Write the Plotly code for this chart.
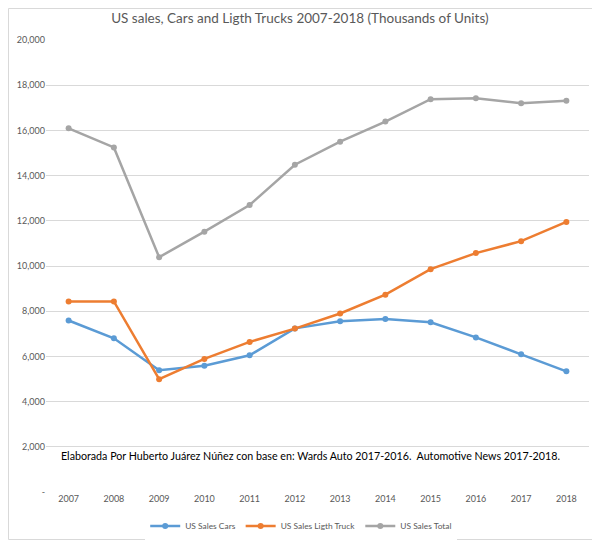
import plotly.graph_objects as go

# US sales (thousands of units)
years = ["2007", "2008", "2009", "2010", "2011", "2012",
         "2013", "2014", "2015", "2016", "2017", "2018"]
cars = [7590, 6800, 5390, 5590, 6050, 7240, 7550, 7650, 7510, 6840, 6090, 5340]
light_truck = [8430, 8430, 4990, 5890, 6640, 7230, 7900, 8730, 9860, 10570, 11100, 11950]
total = [16090, 15245, 10390, 11520, 12700, 14480, 15500, 16390, 17380, 17425, 17200, 17310]

y_ticks = [0, 2000, 4000, 6000, 8000, 10000, 12000, 14000, 16000, 18000, 20000]
y_labels = ["-"] + [f"{v:,}" for v in y_ticks[1:]]

font_name = "Lato"
grey_txt = "#595959"

fig = go.Figure()
fig.add_trace(go.Scatter(x=years, y=cars, name="US Sales Cars", mode="lines+markers",
                         line=dict(color="#5B9BD5", width=2.5), marker=dict(size=6)))
fig.add_trace(go.Scatter(x=years, y=light_truck, name="US Sales Ligth Truck", mode="lines+markers",
                         line=dict(color="#ED7D31", width=2.5), marker=dict(size=6)))
fig.add_trace(go.Scatter(x=years, y=total, name="US Sales Total", mode="lines+markers",
                         line=dict(color="#A5A5A5", width=2.5), marker=dict(size=6)))

fig.add_annotation(text="Elaborada Por Huberto Juárez Núñez con base en: Wards Auto 2017-2016.  Automotive News 2017-2018.",
                   xref="paper", yref="paper", x=0.488, y=0.062, showarrow=False,
                   font=dict(family=font_name, size=10.7, color="black"))

# the page body adds 8px, so the figure is a bit smaller than the window
W, H = 592, 533
L, R, T, B = 38, 11, 32, 49
pw, ph = W - L - R, H - T - B
fig.add_shape(type="rect", xref="paper", yref="paper",
              x0=-(L - 0.5) / pw, x1=1 + (R - 3) / pw, y0=-(B - 1.5) / ph, y1=1 + (T - 0.5) / ph,
              line=dict(color="#D9D9D9", width=1), layer="below")

fig.update_layout(
    width=W, height=H,
    margin=dict(l=L, r=R, t=T, b=B, autoexpand=False),
    paper_bgcolor="white", plot_bgcolor="white",
    font=dict(family=font_name, color=grey_txt, size=9),
    title=dict(text="US sales, Cars and Ligth Trucks 2007-2018 (Thousands of Units)",
               x=0.493, xref="container", y=0.98, yanchor="middle",
               font=dict(family=font_name, size=13.5, color=grey_txt)),
    legend=dict(orientation="h", x=0.47, xanchor="center", y=-0.075, yanchor="middle",
                font=dict(size=8.4, color=grey_txt), itemwidth=30),
    showlegend=True,
)
fig.update_xaxes(type="category", range=[-0.5, 11.5], showgrid=False, showline=False,
                 ticks="", automargin=False, tickfont=dict(size=9, color=grey_txt))
fig.update_yaxes(range=[0, 20000], tickvals=y_ticks, ticktext=y_labels, automargin=False,
                 showgrid=True, gridcolor="#D9D9D9", gridwidth=1, zeroline=False,
                 showline=False, ticks="", tickfont=dict(size=9, color=grey_txt))

fig.write_html("out.html")
